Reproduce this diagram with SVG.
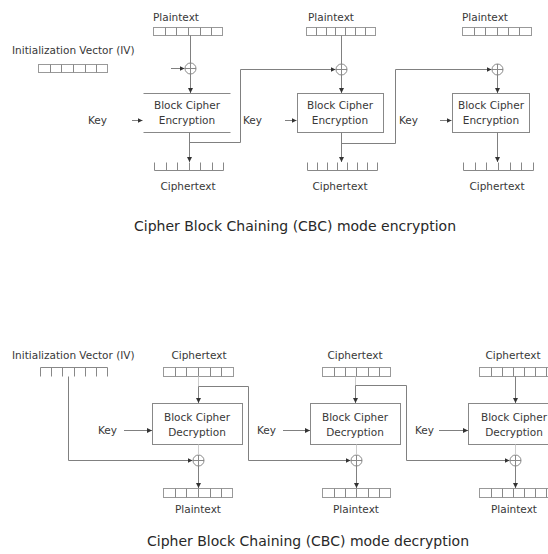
<svg xmlns="http://www.w3.org/2000/svg" width="548" height="554" viewBox="0 0 548 554">
  <defs>
    <marker id="ah" viewBox="0 0 6 6" refX="6" refY="3" markerWidth="5" markerHeight="5" orient="auto" markerUnits="userSpaceOnUse">
      <path d="M0,0 L6,3 L0,6 z" fill="#333"/>
    </marker>
    <!-- XOR operator symbol, centred on 0,0 -->
    <g id="xor">
      <circle r="5.5" fill="#fff" stroke="#888" stroke-width="1"/>
      <path d="M-5.5,0 H5.5 M0,-5.5 V5.5" stroke="#888" stroke-width="1"/>
    </g>
  </defs>
  <style>
    text { font-family: "DejaVu Sans", Verdana, sans-serif; font-size: 10.5px; fill: #383838; }
    .mid { text-anchor: middle; }
    .cap { font-size: 14px; fill: #282828; }
    .blk { fill: #fff; stroke: #888; stroke-width: 1; }
    .reg { fill: #fff; stroke: #999; stroke-width: 1; }
    .cell { stroke: #888; stroke-width: 1; fill: none; }
    .wire { fill: none; stroke: #808080; stroke-width: 1; }
    .faint { fill: none; stroke: #ccc; stroke-width: 1; }
  </style>
  <rect width="548" height="554" fill="#fff"/>

  <!-- ================= CBC encryption ================= -->
  <g id="enc-iv">
    <text x="12" y="54">Initialization Vector (IV)</text>
    <rect class="reg" x="38.5" y="64.5" width="69" height="8"/>
    <path class="cell" d="M50.5,64.5v8 M61.5,64.5v8 M73.5,64.5v8 M85.5,64.5v8 M96.5,64.5v8"/>
  </g>

  <g id="enc-pt1">
    <text x="153" y="21">Plaintext</text>
    <rect class="reg" x="153.5" y="27.5" width="69" height="8"/>
    <path class="cell" d="M165.5,27.5v8 M176.5,27.5v8 M188.5,27.5v8 M200.5,27.5v8 M211.5,27.5v8"/>
  </g>
  <g id="enc-pt2">
    <text x="308" y="21">Plaintext</text>
    <rect class="reg" x="306.5" y="27.5" width="69" height="8"/>
    <path class="cell" d="M316.5,27.5v8 M326.5,27.5v8 M335.5,27.5v8 M345.5,27.5v8 M355.5,27.5v8 M365.5,27.5v8"/>
  </g>
  <g id="enc-pt3">
    <text x="462" y="21">Plaintext</text>
    <rect class="reg" x="462.5" y="27.5" width="69" height="8"/>
    <path class="cell" d="M474.5,27.5v8 M485.5,27.5v8 M497.5,27.5v8 M508.5,27.5v8 M519.5,27.5v8"/>
  </g>

  <g id="enc-xor1"><use href="#xor" x="190.5" y="68.5"/></g>
  <g id="enc-xor2"><use href="#xor" x="341.5" y="69.5"/></g>
  <g id="enc-xor3"><use href="#xor" x="497.5" y="69.5"/></g>

  <g id="enc-block1">
    <rect x="143.5" y="93.5" width="87" height="39" fill="#fff"/>
    <path class="cell" d="M143.5,93.5H230.5 M143.5,132.5H230.5"/>
    <text class="mid" x="187" y="109">Block Cipher</text>
    <text class="mid" x="187" y="124">Encryption</text>
  </g>
  <g id="enc-block2">
    <rect class="blk" x="297.5" y="93.5" width="86" height="39"/>
    <text class="mid" x="340" y="109">Block Cipher</text>
    <text class="mid" x="340" y="124">Encryption</text>
  </g>
  <g id="enc-block3">
    <rect class="blk" x="452.5" y="93.5" width="77" height="39"/>
    <text class="mid" x="491" y="109">Block Cipher</text>
    <text class="mid" x="491" y="124">Encryption</text>
  </g>

  <g id="enc-key1"><text x="88" y="124">Key</text></g>
  <g id="enc-key2"><text x="243" y="124">Key</text></g>
  <g id="enc-key3"><text x="399" y="124">Key</text></g>

  <g id="enc-ct1">
    <path class="cell" d="M154.5,170.5H223.5 M154.5,162.5v8 M166.5,162.5v8 M177.5,162.5v8 M189.5,162.5v8 M200.5,162.5v8 M212.5,162.5v8 M223.5,162.5v8"/>
    <text class="mid" x="188" y="190">Ciphertext</text>
  </g>
  <g id="enc-ct2">
    <path class="cell" d="M307.5,170.5H377.5 M307.5,162.5v8 M317.5,162.5v8 M327.5,162.5v8 M337.5,162.5v8 M347.5,162.5v8 M357.5,162.5v8 M367.5,162.5v8 M377.5,162.5v8"/>
    <text class="mid" x="340" y="190">Ciphertext</text>
  </g>
  <g id="enc-ct3">
    <path class="cell" d="M463.5,170.5H533.5 M463.5,162.5v8 M475.5,162.5v8 M486.5,162.5v8 M498.5,162.5v8 M510.5,162.5v8 M521.5,162.5v8 M533.5,162.5v8"/>
    <text class="mid" x="497" y="190">Ciphertext</text>
  </g>

  <text class="cap mid" x="295" y="231">Cipher Block Chaining (CBC) mode encryption</text>

  <g id="enc-connectors">
    <path class="wire" d="M190.5,35.5V63"/>
    <path class="wire" d="M341.5,35.5V64"/>
    <path class="wire" d="M171,68.5H184.5" marker-end="url(#ah)"/>
    <path class="wire" d="M190.5,74V93" marker-end="url(#ah)"/>
    <path class="wire" d="M341.5,75V93" marker-end="url(#ah)"/>
    <path class="wire" d="M497.5,75V93" marker-end="url(#ah)"/>
    <path class="wire" d="M132,120.5H142.5" marker-end="url(#ah)"/>
    <path class="wire" d="M285,120.5H296.5" marker-end="url(#ah)"/>
    <path class="wire" d="M440,120.5H451.5" marker-end="url(#ah)"/>
    <path class="wire" d="M189.5,132.5V162" marker-end="url(#ah)"/>
    <path class="wire" d="M341.5,132.5V162" marker-end="url(#ah)"/>
    <path class="wire" d="M497.5,132.5V162" marker-end="url(#ah)"/>
    <path class="wire" d="M189.5,142.5H240.5V69.5H335.5" marker-end="url(#ah)"/>
    <path class="wire" d="M341.5,143.5H395.5V69.5H491.5" marker-end="url(#ah)"/>
  </g>

  <!-- ================= CBC decryption ================= -->
  <g id="dec-iv">
    <text x="12" y="359">Initialization Vector (IV)</text>
    <path class="cell" d="M40.5,367.5H107.5 M40.5,367.5v9 M51.5,367.5v9 M62.5,367.5v9 M74.5,367.5v9 M85.5,367.5v9 M96.5,367.5v9 M107.5,367.5v9"/>
  </g>

  <g id="dec-ct1">
    <text class="mid" x="199" y="359">Ciphertext</text>
    <rect class="reg" x="163.5" y="367.5" width="70" height="9"/>
    <path class="cell" d="M175.5,367.5v9 M186.5,367.5v9 M198.5,367.5v9 M210.5,367.5v9 M221.5,367.5v9"/>
  </g>
  <g id="dec-ct2">
    <text class="mid" x="355" y="359">Ciphertext</text>
    <rect class="reg" x="322.5" y="367.5" width="68" height="9"/>
    <path class="cell" d="M334.5,367.5v9 M345.5,367.5v9 M356.5,367.5v9 M368.5,367.5v9 M379.5,367.5v9"/>
  </g>
  <g id="dec-ct3">
    <text class="mid" x="513" y="359">Ciphertext</text>
    <rect class="reg" x="479.5" y="367.5" width="80" height="9"/>
    <path class="cell" d="M491.5,367.5v9 M502.5,367.5v9 M513.5,367.5v9 M524.5,367.5v9 M535.5,367.5v9 M546.5,367.5v9"/>
  </g>

  <g id="dec-block1">
    <rect class="blk" x="152.5" y="403.5" width="90" height="41"/>
    <text class="mid" x="197" y="421">Block Cipher</text>
    <text class="mid" x="197" y="436">Decryption</text>
  </g>
  <g id="dec-block2">
    <rect class="blk" x="310.5" y="403.5" width="90" height="41"/>
    <text class="mid" x="355" y="421">Block Cipher</text>
    <text class="mid" x="355" y="436">Decryption</text>
  </g>
  <g id="dec-block3">
    <rect class="blk" x="468.5" y="403.5" width="92" height="41"/>
    <text class="mid" x="514" y="421">Block Cipher</text>
    <text class="mid" x="514" y="436">Decryption</text>
  </g>

  <g id="dec-key1"><text x="98" y="434">Key</text></g>
  <g id="dec-key2"><text x="257" y="434">Key</text></g>
  <g id="dec-key3"><text x="415" y="434">Key</text></g>

  <g id="dec-xor1"><use href="#xor" x="198.5" y="460.5"/></g>
  <g id="dec-xor2"><use href="#xor" x="356.5" y="460.5"/></g>
  <g id="dec-xor3"><use href="#xor" x="515.5" y="460.5"/></g>

  <g id="dec-pt1">
    <rect class="reg" x="163.5" y="488.5" width="69" height="9"/>
    <path class="cell" d="M175.5,488.5v9 M186.5,488.5v9 M198.5,488.5v9 M210.5,488.5v9 M221.5,488.5v9"/>
    <text class="mid" x="198" y="513">Plaintext</text>
  </g>
  <g id="dec-pt2">
    <rect class="reg" x="322.5" y="488.5" width="68" height="9"/>
    <path class="cell" d="M334.5,488.5v9 M345.5,488.5v9 M356.5,488.5v9 M368.5,488.5v9 M379.5,488.5v9"/>
    <text class="mid" x="356" y="513">Plaintext</text>
  </g>
  <g id="dec-pt3">
    <rect class="reg" x="479.5" y="488.5" width="80" height="9"/>
    <path class="cell" d="M491.5,488.5v9 M502.5,488.5v9 M513.5,488.5v9 M524.5,488.5v9 M535.5,488.5v9 M546.5,488.5v9"/>
    <text class="mid" x="514" y="513">Plaintext</text>
  </g>

  <text class="cap mid" x="308" y="546">Cipher Block Chaining (CBC) mode decryption</text>

  <g id="dec-connectors">
    <path class="wire" d="M68.5,376.5V460.5H192.5" marker-end="url(#ah)"/>
    <path class="faint" d="M198.5,376.5V386.5"/>
    <path class="wire" d="M198.5,386.5V403" marker-end="url(#ah)"/>
    <path class="wire" d="M198.5,386.5H248.5V460.5H350.5" marker-end="url(#ah)"/>
    <path class="faint" d="M355.5,376.5V385.5"/>
    <path class="wire" d="M355.5,385.5V403" marker-end="url(#ah)"/>
    <path class="wire" d="M355.5,385.5H406.5V460.5H509.5" marker-end="url(#ah)"/>
    <path class="wire" d="M515.5,376.5V403" marker-end="url(#ah)"/>
    <path class="wire" d="M124,430.5H152" marker-end="url(#ah)"/>
    <path class="wire" d="M283,430.5H310" marker-end="url(#ah)"/>
    <path class="wire" d="M439,430.5H468" marker-end="url(#ah)"/>
    <path class="faint" d="M198.5,444.5V455 M356.5,444.5V455 M515.5,444.5V455"/>
    <path class="wire" d="M198.5,466V488" marker-end="url(#ah)"/>
    <path class="wire" d="M356.5,466V488" marker-end="url(#ah)"/>
    <path class="wire" d="M515.5,466V488" marker-end="url(#ah)"/>
  </g>
</svg>
